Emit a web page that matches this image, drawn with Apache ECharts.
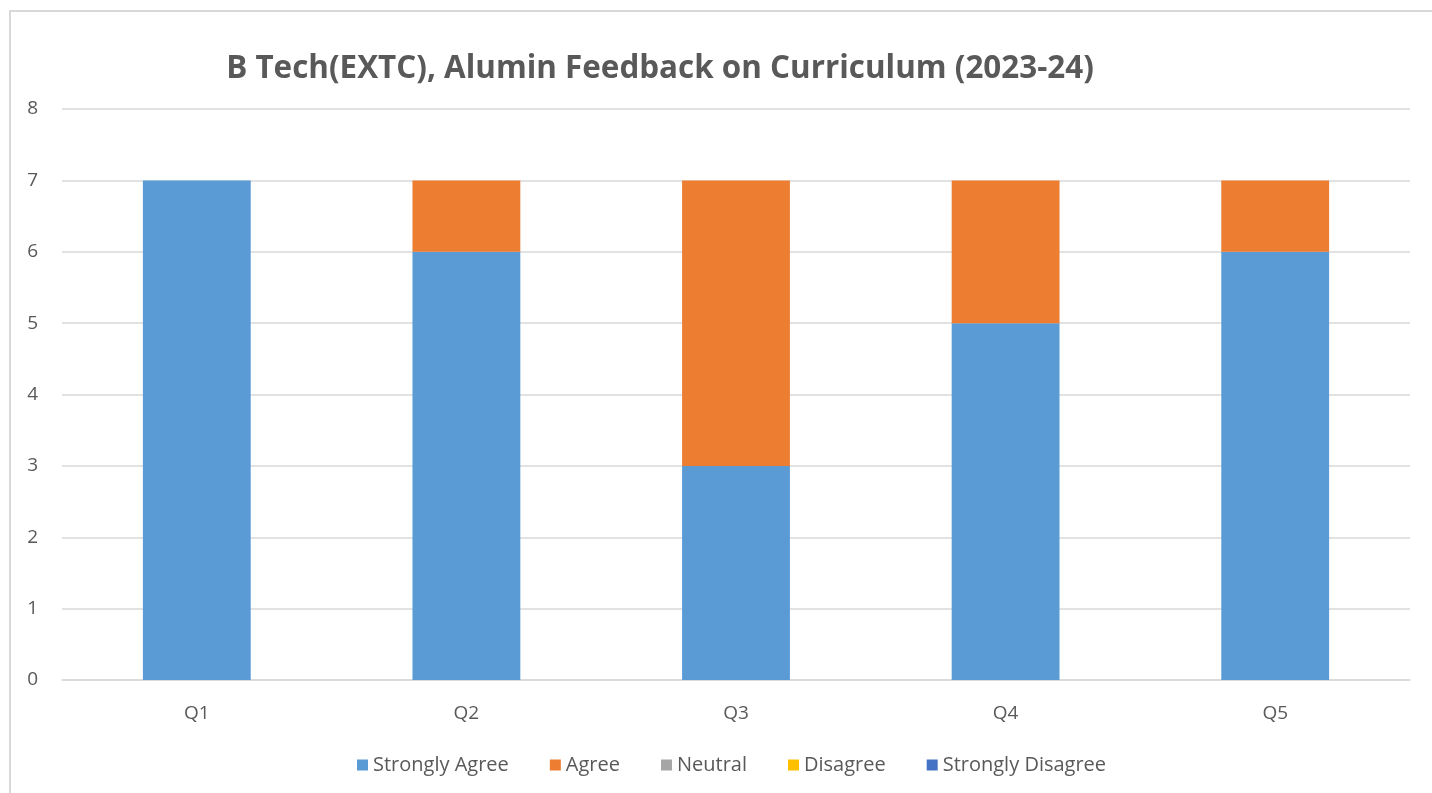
<!DOCTYPE html>
<html>
<head>
<meta charset="utf-8">
<script src="https://cdn.jsdelivr.net/npm/echarts@6/dist/echarts.min.js"></script>
<style>
  html, body { margin: 0; padding: 0; background: #fff; }
  #frame { position: absolute; left: 9px; top: 10px; width: 1500px; height: 900px; border: 2px solid #d9d9d9; box-sizing: border-box; }
  #chart { position: absolute; left: 0; top: 0; width: 1432px; height: 793px; }
</style>
</head>
<body>
<div id="frame"></div>
<div id="chart"></div>
<script>
// 数据
const categories = ['Q1', 'Q2', 'Q3', 'Q4', 'Q5']
const stronglyAgree = [7, 6, 3, 5, 6]
const agree = [0, 1, 4, 2, 1]
const neutral = [0, 0, 0, 0, 0]
const disagree = [0, 0, 0, 0, 0]
const stronglyDisagree = [0, 0, 0, 0, 0]

const seriesNames = ['Strongly Agree', 'Agree', 'Neutral', 'Disagree', 'Strongly Disagree']
const seriesData = [stronglyAgree, agree, neutral, disagree, stronglyDisagree]
const colors = ['#5b9bd5', '#ed7d31', '#a5a5a5', '#ffc000', '#4472c4']

const font = '"Open Sans", "Noto Sans", sans-serif'
const ec = echarts.init(document.getElementById('chart'))

ec.setOption({
    animation: false,
    color: colors,
    title: {
        text: 'B Tech(EXTC), Alumin Feedback on Curriculum (2023-24)',
        left: 655,
        textAlign: 'center',
        top: 49,
        textStyle: { fontFamily: font, fontSize: 31.4, fontWeight: 'bold', color: '#595959' }
    },
    legend: {
        bottom: 13,
        left: 352,
        itemWidth: 11,
        itemHeight: 11,
        itemGap: 41,
        icon: 'rect',
        textStyle: { fontFamily: font, fontSize: 20, color: '#595959', padding: [0, 0, 0, 0] },
        data: seriesNames
    },
    grid: { left: 62, right: 22, top: 109, bottom: 113, containLabel: false },
    xAxis: {
        type: 'category',
        data: categories,
        axisLine: { lineStyle: { color: '#d9d9d9', width: 1.5 } },
        axisTick: { show: false },
        axisLabel: { fontFamily: font, fontSize: 19, color: '#595959', margin: 24 }
    },
    yAxis: {
        type: 'value',
        min: 0,
        max: 8,
        interval: 1,
        axisLine: { show: false },
        axisTick: { show: false },
        axisLabel: { fontFamily: font, fontSize: 19, color: '#595959', margin: 24 },
        splitLine: { lineStyle: { color: '#d9d9d9', width: 1.5 } }
    },
    series: seriesNames.map((name, i) => ({
        name,
        type: 'bar',
        stack: 'total',
        barWidth: '40%',
        data: seriesData[i]
    }))
})
</script>
</body>
</html>
